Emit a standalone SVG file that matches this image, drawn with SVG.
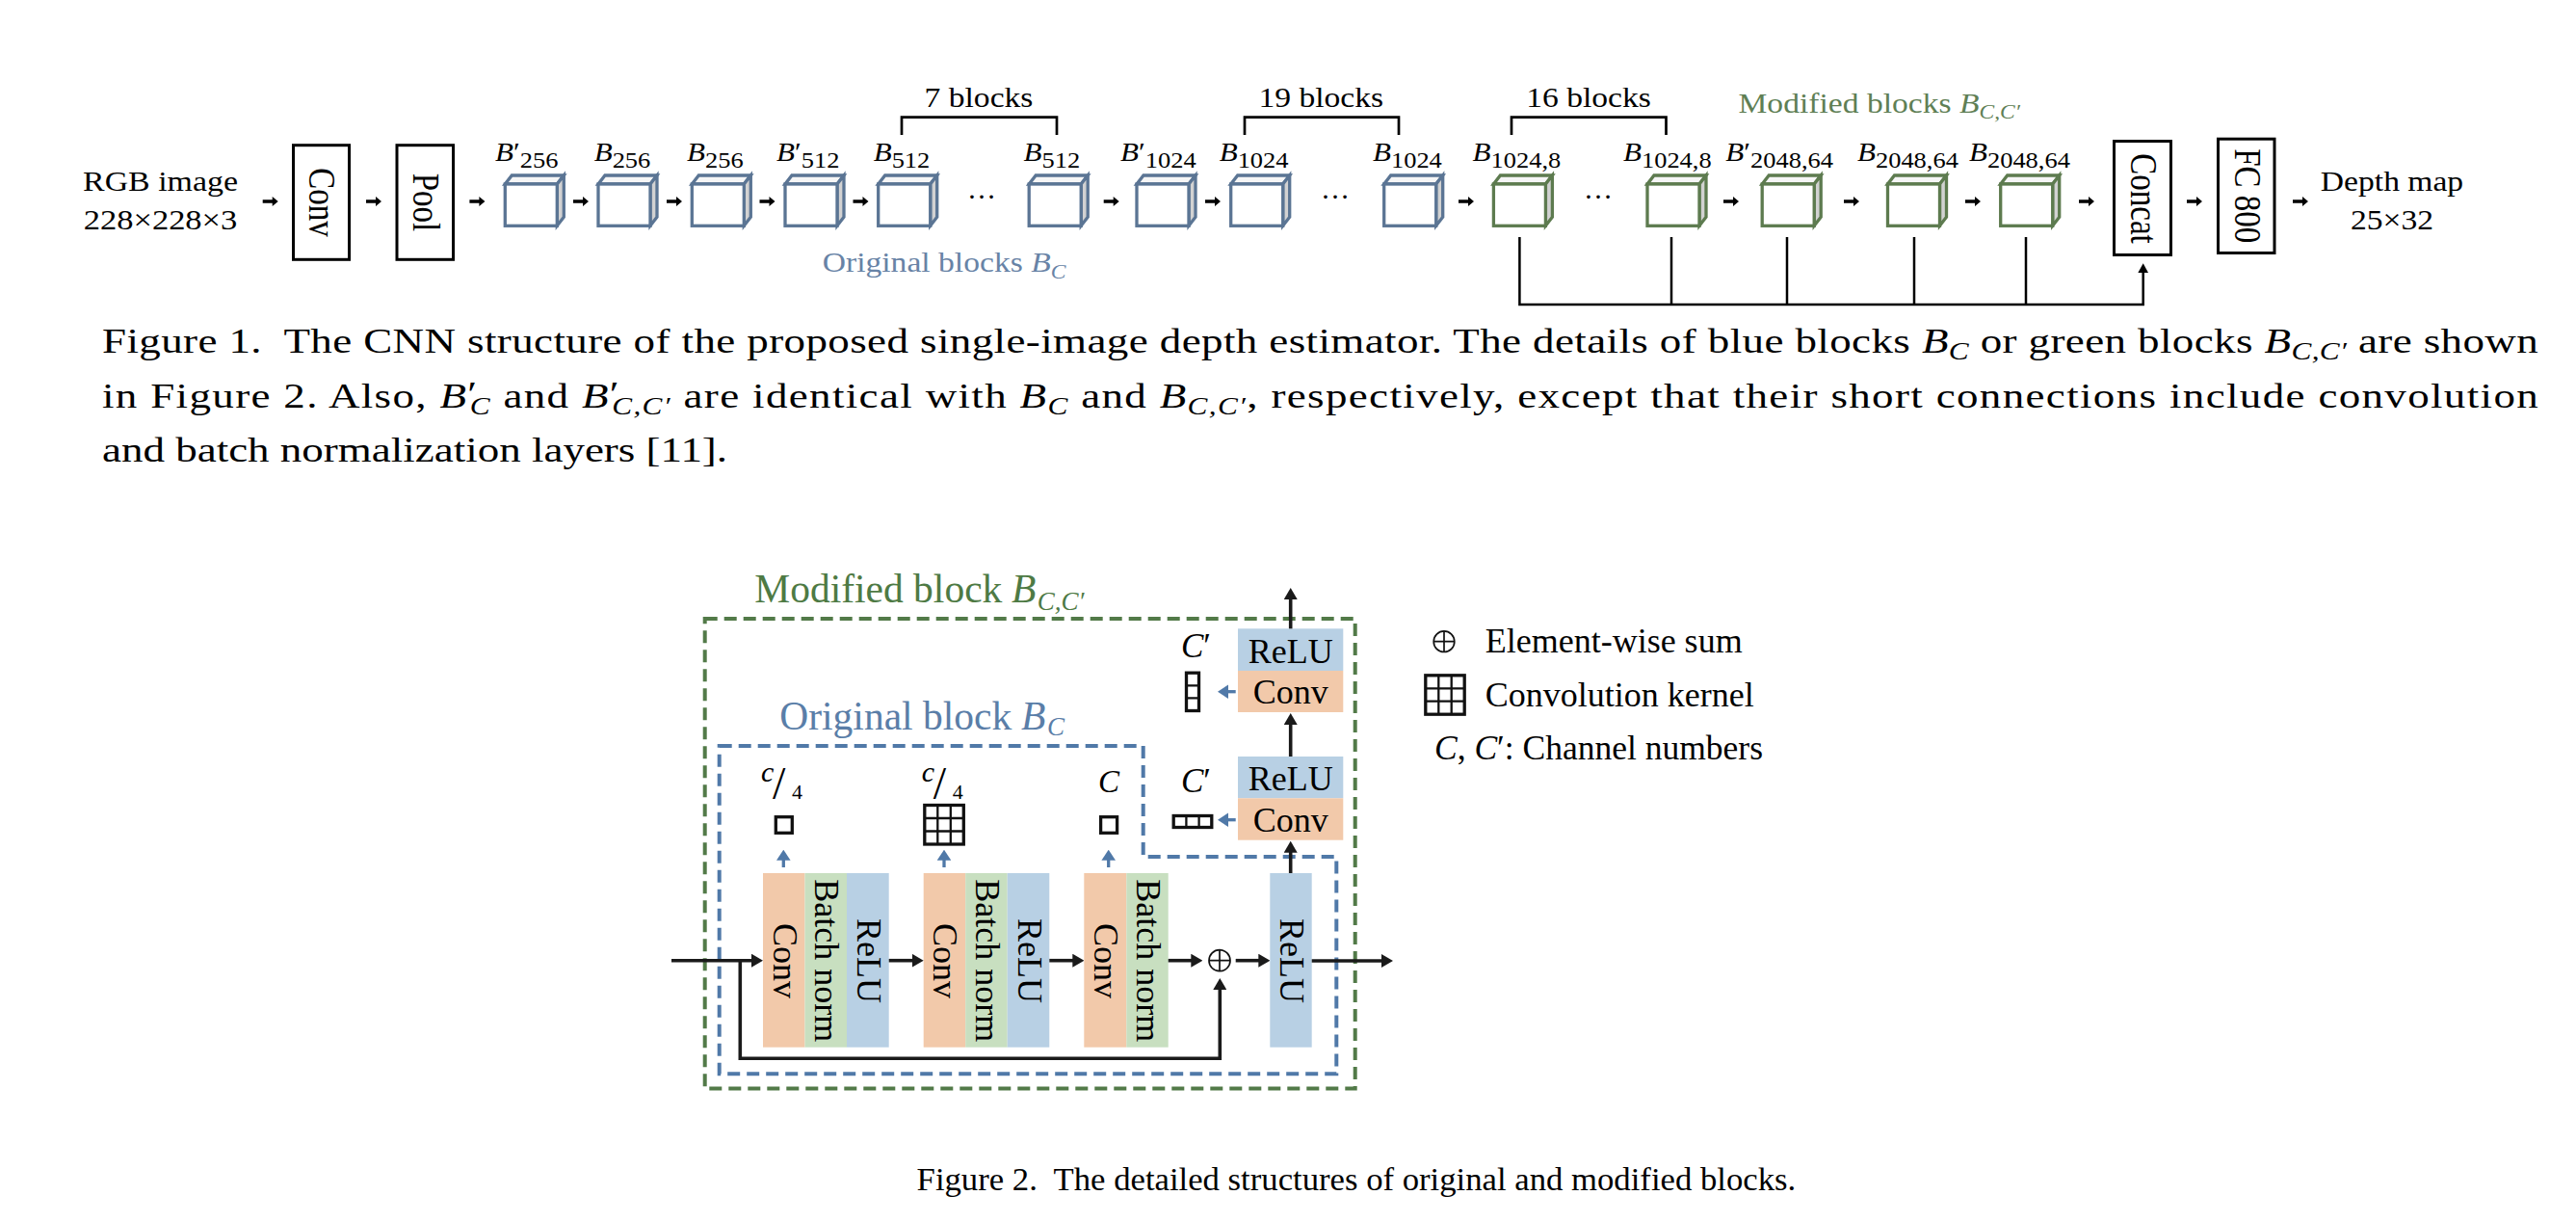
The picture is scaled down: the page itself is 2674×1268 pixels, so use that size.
<svg xmlns="http://www.w3.org/2000/svg" xmlns:xlink="http://www.w3.org/1999/xlink" width="2674" height="1268" viewBox="0 0 2674 1268">
<style>
  text { font-family: "Liberation Serif", "Times New Roman", serif; fill: #000; }
  .i { font-style: italic; }
  .f1 { font-size: 30px; }
  .rot1 { font-size: 33px; }
  .lbl { font-size: 27px; }
  .sb { font-size: 23px; font-style: normal; }
  .box { fill: #fff; stroke: #000; stroke-width: 3; }
  .br { fill: none; stroke: #000; stroke-width: 2.7; }
  .ln { fill: none; stroke: #000; stroke-width: 2.5; }
  .cap { font-size: 36px; }
  .cs { font-size: 25px; }
  .f2 { font-size: 36px; }
  .ttl { font-size: 41.5px; }
  .or { fill: #f2c9aa; }
  .gr { fill: #c8dfc0; }
  .bl { fill: #b8d0e4; }
  .arr { fill: none; stroke: #1a1a1a; stroke-width: 3.6; marker-end: url(#ah); }
  .barr { fill: none; stroke: #5079a8; stroke-width: 3.3; marker-end: url(#bh); }
  .k { fill: none; stroke: #111; stroke-width: 3.3; }
  .kin { fill: none; stroke: #111; stroke-width: 2.3; }
  .sum { fill: none; stroke: #111; stroke-width: 1.7; }
  .gd { fill: none; stroke: #527a48; stroke-width: 4; stroke-dasharray: 13 7; }
  .bd { fill: none; stroke: #5079a8; stroke-width: 4; stroke-dasharray: 13 7; }
  .cb { color: #5b7594; }
  .cg { color: #5d7b4f; }
</style>
<defs>
  <g id="cube" stroke="currentColor" stroke-width="3.3" stroke-linejoin="miter">
    <path d="M0,0 L7,-9 L61,-9 L54,0 Z" fill="#f6f6f6"/>
    <path d="M54,0 L61,-9 L61,34.3 L54,43.3 Z" fill="#d2d2d2"/>
    <rect x="0" y="0" width="54" height="43.3" fill="#fff"/>
  </g>
  <path id="sa" d="M0,-1.8 H10 V-5 L16,0 L10,5 V1.8 H0 Z" fill="#000"/>
  <marker id="ah" markerUnits="userSpaceOnUse" viewBox="0 0 12 14" markerWidth="12" markerHeight="14" refX="4" refY="7" orient="auto">
    <path d="M0,0 L12,7 L0,14 Z" fill="#1a1a1a"/>
  </marker>
  <marker id="bh" markerUnits="userSpaceOnUse" viewBox="0 0 11 14.6" markerWidth="11" markerHeight="14.6" refX="3" refY="7.3" orient="auto">
    <path d="M0,0 L11,7.3 L0,14.6 Z" fill="#5079a8"/>
  </marker>
  <marker id="sh" markerUnits="userSpaceOnUse" viewBox="0 0 10 11" markerWidth="10" markerHeight="11" refX="3" refY="5.5" orient="auto">
    <path d="M0,0 L10,5.5 L0,11 Z" fill="#000"/>
  </marker>
</defs>
<rect width="2674" height="1268" fill="#fff"/>

<!-- ================= FIGURE 1 ================= -->
<g id="fig1">
  <g id="input-rgb">
    <text class="f1" text-anchor="middle" transform="translate(166.5,198.3) scale(1.13,1)">RGB image</text>
    <text class="f1" text-anchor="middle" transform="translate(166.5,238.3) scale(1.15,1)">228×228×3</text>
  </g>
  <g id="conv-layer">
    <rect class="box" x="304.5" y="150.7" width="58" height="118.6"/>
    <text class="rot1" text-anchor="middle" y="10" transform="translate(333.5,210) scale(1.2,1) rotate(90)">Conv</text>
  </g>
  <g id="pool-layer">
    <rect class="box" x="412" y="150.7" width="58.5" height="118.6"/>
    <text class="rot1" text-anchor="middle" y="10" transform="translate(441.2,210) scale(1.2,1) rotate(90)">Pool</text>
  </g>

  <g id="blk-b256p"><use xlink:href="#cube" href="#cube" class="cb" x="524.3" y="191"/>
    <text class="lbl" transform="translate(514,167.3) scale(1.15,1)"><tspan class="i">B</tspan><tspan>′</tspan><tspan class="sb" dy="6.7">256</tspan></text></g>
  <g id="blk-b256a"><use xlink:href="#cube" href="#cube" class="cb" x="621" y="191"/>
    <text class="lbl" transform="translate(616.7,167.3) scale(1.15,1)"><tspan class="i">B</tspan><tspan class="sb" dy="6.7">256</tspan></text></g>
  <g id="blk-b256b"><use xlink:href="#cube" href="#cube" class="cb" x="718.3" y="191"/>
    <text class="lbl" transform="translate(713,167.3) scale(1.15,1)"><tspan class="i">B</tspan><tspan class="sb" dy="6.7">256</tspan></text></g>
  <g id="blk-b512p"><use xlink:href="#cube" href="#cube" class="cb" x="815" y="191"/>
    <text class="lbl" transform="translate(806,167.3) scale(1.15,1)"><tspan class="i">B</tspan><tspan>′</tspan><tspan class="sb" dy="6.7">512</tspan></text></g>
  <g id="blk-b512a"><use xlink:href="#cube" href="#cube" class="cb" x="911.7" y="191"/>
    <text class="lbl" transform="translate(906.7,167.3) scale(1.15,1)"><tspan class="i">B</tspan><tspan class="sb" dy="6.7">512</tspan></text></g>
  <g id="dots-512"><text class="f1" font-size="22" text-anchor="middle" x="1019" y="205.5">…</text></g>
  <g id="blk-b512b"><use xlink:href="#cube" href="#cube" class="cb" x="1068.2" y="191"/>
    <text class="lbl" transform="translate(1062.5,167.3) scale(1.15,1)"><tspan class="i">B</tspan><tspan class="sb" dy="6.7">512</tspan></text></g>
  <g id="blk-b1024p"><use xlink:href="#cube" href="#cube" class="cb" x="1180" y="191"/>
    <text class="lbl" transform="translate(1163,167.3) scale(1.15,1)"><tspan class="i">B</tspan><tspan>′</tspan><tspan class="sb" dy="6.7">1024</tspan></text></g>
  <g id="blk-b1024a"><use xlink:href="#cube" href="#cube" class="cb" x="1277.7" y="191"/>
    <text class="lbl" transform="translate(1265.7,167.3) scale(1.15,1)"><tspan class="i">B</tspan><tspan class="sb" dy="6.7">1024</tspan></text></g>
  <g id="dots-1024"><text class="f1" font-size="22" text-anchor="middle" x="1386" y="205.5">…</text></g>
  <g id="blk-b1024b"><use xlink:href="#cube" href="#cube" class="cb" x="1436.7" y="191"/>
    <text class="lbl" transform="translate(1425,167.3) scale(1.15,1)"><tspan class="i">B</tspan><tspan class="sb" dy="6.7">1024</tspan></text></g>

  <g id="blk-b10248a"><use xlink:href="#cube" href="#cube" class="cg" x="1550.4" y="191"/>
    <text class="lbl" transform="translate(1528.6,167.3) scale(1.15,1)"><tspan class="i">B</tspan><tspan class="sb" dy="6.7">1024,8</tspan></text></g>
  <g id="dots-10248"><text class="f1" font-size="22" text-anchor="middle" x="1659" y="205.5">…</text></g>
  <g id="blk-b10248b"><use xlink:href="#cube" href="#cube" class="cg" x="1710" y="191"/>
    <text class="lbl" transform="translate(1685,167.3) scale(1.15,1)"><tspan class="i">B</tspan><tspan class="sb" dy="6.7">1024,8</tspan></text></g>
  <g id="blk-b204864p"><use xlink:href="#cube" href="#cube" class="cg" x="1829.2" y="191"/>
    <text class="lbl" transform="translate(1791.3,167.3) scale(1.15,1)"><tspan class="i">B</tspan><tspan>′</tspan><tspan class="sb" dy="6.7">2048,64</tspan></text></g>
  <g id="blk-b204864a"><use xlink:href="#cube" href="#cube" class="cg" x="1959.5" y="191"/>
    <text class="lbl" transform="translate(1928,167.3) scale(1.15,1)"><tspan class="i">B</tspan><tspan class="sb" dy="6.7">2048,64</tspan></text></g>
  <g id="blk-b204864b"><use xlink:href="#cube" href="#cube" class="cg" x="2076.7" y="191"/>
    <text class="lbl" transform="translate(2044,167.3) scale(1.15,1)"><tspan class="i">B</tspan><tspan class="sb" dy="6.7">2048,64</tspan></text></g>

  <g id="concat-layer">
    <rect class="box" x="2194.5" y="146.5" width="59" height="118"/>
    <text class="rot1" text-anchor="middle" y="10" transform="translate(2224,206) scale(1.2,1) rotate(90)">Concat</text>
  </g>
  <g id="fc-layer">
    <rect class="box" x="2302.5" y="144.2" width="58.5" height="118.3"/>
    <text class="rot1" text-anchor="middle" y="10" transform="translate(2331.7,203.3) scale(1.2,1) rotate(90)">FC 800</text>
  </g>
  <g id="output-depth">
    <text class="f1" text-anchor="middle" transform="translate(2483,198.3) scale(1.12,1)">Depth map</text>
    <text class="f1" text-anchor="middle" transform="translate(2483,238.3) scale(1.12,1)">25×32</text>
  </g>

  <g id="group-labels">
    <path class="br" d="M936,140 V121.7 H1097 V140"/>
    <text class="f1" text-anchor="middle" transform="translate(1016,110.7) scale(1.12,1)">7 blocks</text>
    <path class="br" d="M1292,140 V121.7 H1452 V140"/>
    <text class="f1" text-anchor="middle" transform="translate(1371.3,110.7) scale(1.12,1)">19 blocks</text>
    <path class="br" d="M1569,140 V121.7 H1729.5 V140"/>
    <text class="f1" text-anchor="middle" transform="translate(1649,110.7) scale(1.12,1)">16 blocks</text>
    <text class="f1" style="fill:#6883a6" transform="translate(853.7,282) scale(1.12,1)">Original blocks <tspan class="i">B</tspan><tspan class="i" font-size="21" dy="7">C</tspan></text>
    <text class="f1" style="fill:#5f7f55" transform="translate(1804.5,116.7) scale(1.12,1)">Modified blocks <tspan class="i">B</tspan><tspan class="i" font-size="21" dy="6">C,C′</tspan></text>
  </g>

  <g id="connectors-fig1">
    <use xlink:href="#sa" href="#sa" x="272.7" y="209"/>
    <use xlink:href="#sa" href="#sa" x="380" y="209"/>
    <use xlink:href="#sa" href="#sa" x="487.4" y="209"/>
    <use xlink:href="#sa" href="#sa" x="595" y="209"/>
    <use xlink:href="#sa" href="#sa" x="692" y="209"/>
    <use xlink:href="#sa" href="#sa" x="788.5" y="209"/>
    <use xlink:href="#sa" href="#sa" x="885.5" y="209"/>
    <use xlink:href="#sa" href="#sa" x="1145.7" y="209"/>
    <use xlink:href="#sa" href="#sa" x="1251" y="209"/>
    <use xlink:href="#sa" href="#sa" x="1514" y="209"/>
    <use xlink:href="#sa" href="#sa" x="1789" y="209"/>
    <use xlink:href="#sa" href="#sa" x="1914" y="209"/>
    <use xlink:href="#sa" href="#sa" x="2040" y="209"/>
    <use xlink:href="#sa" href="#sa" x="2158" y="209"/>
    <use xlink:href="#sa" href="#sa" x="2270" y="209"/>
    <use xlink:href="#sa" href="#sa" x="2380" y="209"/>
    <path class="ln" d="M1577.4,246 V316 H2224.7 V280.3" marker-end="url(#sh)"/>
    <path class="ln" d="M1735,246 V317 M1855,246 V317 M1987,246 V317 M2103,246 V317"/>
  </g>
</g>

<!-- caption 1 -->
<g id="caption1">
  <text class="cap" transform="translate(106,366) scale(1.25,1)" textLength="2023" lengthAdjust="spacing">Figure 1.&#160; The CNN structure of the proposed single-image depth estimator. The details of blue blocks <tspan class="i">B</tspan><tspan class="i cs" dy="7">C</tspan><tspan dy="-7"> or green blocks </tspan><tspan class="i">B</tspan><tspan class="i cs" dy="7">C,C′</tspan><tspan dy="-7"> are shown</tspan></text>
  <text class="cap" transform="translate(106,423) scale(1.25,1)" textLength="2023" lengthAdjust="spacing">in Figure 2. Also, <tspan class="i">B</tspan><tspan dy="-2">′</tspan><tspan class="i cs" dx="-7" dy="9">C</tspan><tspan dy="-7"> and </tspan><tspan class="i">B</tspan><tspan dy="-2">′</tspan><tspan class="i cs" dx="-7" dy="9">C,C′</tspan><tspan dy="-7"> are identical with </tspan><tspan class="i">B</tspan><tspan class="i cs" dy="7">C</tspan><tspan dy="-7"> and </tspan><tspan class="i">B</tspan><tspan class="i cs" dy="7">C,C′</tspan><tspan dy="-7">, respectively, except that their short connections include convolution</tspan></text>
  <text class="cap" transform="translate(106,479) scale(1.25,1)">and batch normalization layers [11].</text>
</g>

<!-- ================= FIGURE 2 ================= -->
<g id="fig2">
  <g id="modified-block-frame">
    <rect class="gd" x="731.7" y="642" width="675" height="487.6"/>
    <text class="ttl" style="fill:#4e7a44"><tspan x="783.3" y="625">Modified block </tspan><tspan class="i" x="1050" y="625">B</tspan><tspan class="i" font-size="27" x="1076.7" y="633">C,C′</tspan></text>
  </g>
  <g id="original-block-frame">
    <path class="bd" d="M746.7,774 H1186.7 V889 H1387.3 V1114.3 H746.7 Z"/>
    <text class="ttl" style="fill:#5a7ea8"><tspan x="809.3" y="756.7">Original block </tspan><tspan class="i" x="1060" y="756.7">B</tspan><tspan class="i" font-size="27" x="1087" y="763">C</tspan></text>
  </g>

  <g id="stage1">
    <rect class="or" x="792" y="906" width="43.5" height="180.7"/>
    <rect class="gr" x="835.5" y="906" width="43.5" height="180.7"/>
    <rect class="bl" x="879" y="906" width="43.7" height="180.7"/>
    <text class="f2" text-anchor="middle" y="11" transform="translate(813.7,997) rotate(90)">Conv</text>
    <text class="f2" text-anchor="middle" y="11" transform="translate(857.2,996.7) rotate(90)">Batch norm</text>
    <text class="f2" text-anchor="middle" y="11" transform="translate(900.8,997) rotate(90)">ReLU</text>
  </g>
  <g id="stage2">
    <rect class="or" x="958.7" y="906" width="43.5" height="180.7"/>
    <rect class="gr" x="1002.2" y="906" width="43.5" height="180.7"/>
    <rect class="bl" x="1045.7" y="906" width="43.6" height="180.7"/>
    <text class="f2" text-anchor="middle" y="11" transform="translate(980.4,997) rotate(90)">Conv</text>
    <text class="f2" text-anchor="middle" y="11" transform="translate(1023.9,996.7) rotate(90)">Batch norm</text>
    <text class="f2" text-anchor="middle" y="11" transform="translate(1067.5,997) rotate(90)">ReLU</text>
  </g>
  <g id="stage3">
    <rect class="or" x="1125.3" y="906" width="44" height="180.7"/>
    <rect class="gr" x="1169.3" y="906" width="43.4" height="180.7"/>
    <text class="f2" text-anchor="middle" y="11" transform="translate(1147.3,997) rotate(90)">Conv</text>
    <text class="f2" text-anchor="middle" y="11" transform="translate(1191,996.7) rotate(90)">Batch norm</text>
  </g>
  <g id="sum-node">
    <circle class="sum" cx="1266" cy="996.7" r="11"/>
    <path class="sum" d="M1255,996.7 H1277 M1266,985.7 V1007.7"/>
  </g>
  <g id="relu-out">
    <rect class="bl" x="1318.3" y="906" width="43.4" height="180.7"/>
    <text class="f2" text-anchor="middle" y="11" transform="translate(1340,997) rotate(90)">ReLU</text>
  </g>
  <g id="extra-lower">
    <rect class="bl" x="1285" y="785" width="109.3" height="43.3"/>
    <rect class="or" x="1285" y="828.3" width="109.3" height="43.4"/>
    <text class="f2" text-anchor="middle" x="1339.7" y="820">ReLU</text>
    <text class="f2" text-anchor="middle" x="1339.7" y="862.7">Conv</text>
  </g>
  <g id="extra-upper">
    <rect class="bl" x="1285" y="652.3" width="109.3" height="43.7"/>
    <rect class="or" x="1285" y="696" width="109.3" height="43"/>
    <text class="f2" text-anchor="middle" x="1339.7" y="687.7">ReLU</text>
    <text class="f2" text-anchor="middle" x="1339.7" y="730">Conv</text>
  </g>

  <g id="kernel1">
    <text><tspan class="i" font-size="30" x="790" y="810.7">c</tspan><tspan font-size="48" x="802" y="828.5">/</tspan><tspan font-size="22" x="822" y="829.3">4</tspan></text>
    <rect class="k" x="805.3" y="847.7" width="17" height="16.6"/>
  </g>
  <g id="kernel2">
    <text><tspan class="i" font-size="30" x="956.7" y="810.7">c</tspan><tspan font-size="48" x="968.7" y="828.5">/</tspan><tspan font-size="22" x="988.7" y="829.3">4</tspan></text>
    <rect class="k" x="959.8" y="835.5" width="40.5" height="40.5" stroke-width="3"/>
    <path class="kin" d="M973.3,835.5 V876 M986.8,835.5 V876 M959.8,849 H1000.3 M959.8,862.5 H1000.3"/>
  </g>
  <g id="kernel3">
    <text class="i" font-size="33" x="1140" y="821.7">C</text>
    <rect class="k" x="1142.6" y="847.7" width="17" height="16.6"/>
  </g>
  <g id="kernel-lower">
    <text font-size="35"><tspan class="i" x="1226" y="821.7">C</tspan><tspan>′</tspan></text>
    <rect class="k" x="1218.2" y="846.5" width="39.6" height="12"/>
    <path class="kin" d="M1231.4,846.5 V858.5 M1244.6,846.5 V858.5"/>
  </g>
  <g id="kernel-upper">
    <text font-size="35"><tspan class="i" x="1226" y="681.7">C</tspan><tspan>′</tspan></text>
    <rect class="k" x="1231.5" y="698.2" width="13" height="39.3"/>
    <path class="kin" d="M1231.5,711.3 H1244.5 M1231.5,724.4 H1244.5"/>
  </g>

  <g id="legend">
    <circle class="sum" cx="1499" cy="665.7" r="10.8"/>
    <path class="sum" d="M1488.2,665.7 H1509.8 M1499,654.9 V676.5"/>
    <text class="f2" x="1541.7" y="676.7">Element-wise sum</text>
    <rect class="k" x="1479.8" y="700.8" width="40.4" height="40.4" stroke-width="3"/>
    <path class="kin" d="M1493.3,700.8 V741.2 M1506.7,700.8 V741.2 M1479.8,714.3 H1520.2 M1479.8,727.7 H1520.2"/>
    <text class="f2" x="1541.7" y="732.7">Convolution kernel</text>
    <text class="f2" x="1489" y="787.5" textLength="341" lengthAdjust="spacingAndGlyphs"><tspan class="i">C</tspan>, <tspan class="i">C</tspan>′: Channel numbers</text>
  </g>

  <g id="connectors-fig2">
    <path class="arr" d="M697,996.7 H784"/>
    <path class="arr" d="M768.3,996.7 V1098.3 H1266.3 V1023"/>
    <path class="arr" d="M922.7,996.7 H950.7"/>
    <path class="arr" d="M1089.3,996.7 H1117.3"/>
    <path class="arr" d="M1212.7,996.7 H1240.3"/>
    <path class="arr" d="M1282.7,996.7 H1310.3"/>
    <path class="arr" d="M1361.7,997 H1438"/>
    <path class="arr" d="M1339.7,906 V880.7"/>
    <path class="arr" d="M1339.7,785 V748"/>
    <path class="arr" d="M1339.7,652.3 V618"/>
    <path class="barr" d="M813.3,900 V889.7"/>
    <path class="barr" d="M980,900 V889.7"/>
    <path class="barr" d="M1150.7,900 V889.7"/>
    <path class="barr" d="M1282.7,717.7 H1272"/>
    <path class="barr" d="M1282.7,850.7 H1272"/>
  </g>
</g>

<g id="caption2">
  <text x="951.6" y="1235" font-size="34.7">Figure 2.&#160; The detailed structures of original and modified blocks.</text>
</g>
</svg>
